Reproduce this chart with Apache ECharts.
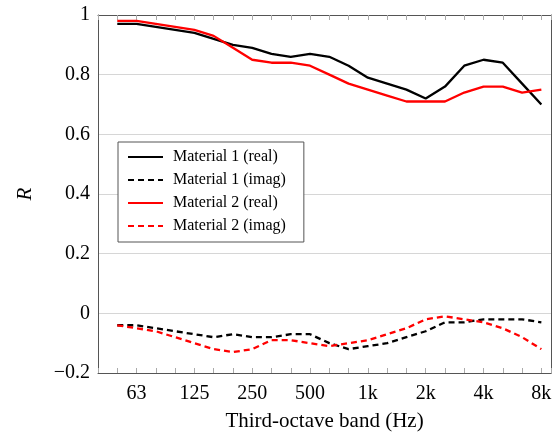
<!DOCTYPE html>
<html>
<head>
<meta charset="utf-8">
<script src="https://cdn.jsdelivr.net/npm/echarts@6/dist/echarts.min.js"></script>
<style>html,body{margin:0;padding:0;background:#fff}#c{width:560px;height:437px}</style>
</head>
<body>
<div id="c"></div>
<script>
// Third-octave band centres (index positions on the x axis)
const bands = ['50','63','80','100','125','160','200','250','315','400','500','630','800','1k','1.25k','1.6k','2k','2.5k','3.15k','4k','5k','6.3k','8k'];
const tickLabels = ['63','125','250','500','1k','2k','4k','8k'];
const yTicks = [-0.2, 0, 0.2, 0.4, 0.6, 0.8, 1];

const mat1Real = [0.97,0.97,0.96,0.95,0.94,0.92,0.90,0.89,0.87,0.86,0.87,0.86,0.83,0.79,0.77,0.75,0.72,0.76,0.83,0.85,0.84,0.77,0.70];
const mat1Imag = [-0.04,-0.04,-0.05,-0.06,-0.07,-0.08,-0.07,-0.08,-0.08,-0.07,-0.07,-0.10,-0.12,-0.11,-0.10,-0.08,-0.06,-0.03,-0.03,-0.02,-0.02,-0.02,-0.03];
const mat2Real = [0.98,0.98,0.97,0.96,0.95,0.93,0.89,0.85,0.84,0.84,0.83,0.80,0.77,0.75,0.73,0.71,0.71,0.71,0.74,0.76,0.76,0.74,0.75];
const mat2Imag = [-0.04,-0.05,-0.06,-0.08,-0.10,-0.12,-0.13,-0.12,-0.09,-0.09,-0.10,-0.11,-0.10,-0.09,-0.07,-0.05,-0.02,-0.01,-0.02,-0.03,-0.05,-0.08,-0.12];

const names = ['Material 1 (real)','Material 1 (imag)','Material 2 (real)','Material 2 (imag)'];
const serif = 'Liberation Serif';

function pts(arr){ return arr.map((v,i)=>[i,v]); }

const chart = echarts.init(document.getElementById('c'), null, {renderer:'canvas'});
const xCommon = {
  type:'value', min:-1, max:22.5, interval:1,
  axisLine:{show:true, onZero:false, lineStyle:{color:'#555', width:1}},
  axisTick:{show:true, inside:true, length:5, lineStyle:{color:'#aaa'}},
  splitLine:{show:false}
};
chart.setOption({
  animation:false,
  grid:{left:98, top:15, right:9, bottom:59},
  xAxis:[
    Object.assign({}, xCommon, {
      position:'bottom',
      name:'Third-octave band (Hz)', nameLocation:'middle', nameGap:38,
      nameTextStyle:{fontFamily:serif, fontSize:21, color:'#000'},
      axisLabel:{show:true, margin:11, fontFamily:serif, fontSize:20, color:'#000',
        formatter:function(v){ const b = bands[v]; return (Number.isInteger(v) && b && tickLabels.indexOf(b)>=0) ? b : ''; }}
    }),
    Object.assign({}, xCommon, {position:'top', axisLabel:{show:false}})
  ],
  yAxis:[
    {type:'value', min:-0.2, max:1, interval:0.2,
     axisLine:{show:true, onZero:false, lineStyle:{color:'#555'}},
     axisTick:{show:false},
     splitLine:{show:true, lineStyle:{color:'#d6d6d6', width:1}},
     name:'R', nameLocation:'middle', nameGap:62,
     nameTextStyle:{fontFamily:serif, fontSize:21, fontStyle:'italic', color:'#000'},
     axisLabel:{margin:8, fontFamily:serif, fontSize:20, color:'#000',
       formatter:function(v){ const r = Math.round(v*10)/10; return r<0 ? '\u2212'+Math.abs(r) : String(r); }}
    },
    {type:'value', min:-0.2, max:1, interval:0.2, position:'right',
     axisLine:{show:true, onZero:false, lineStyle:{color:'#555'}}, axisTick:{show:false}, axisLabel:{show:false}, splitLine:{show:false}}
  ],
  legend:{
    orient:'vertical', left:118, top:142,
    data:names,
    itemWidth:35, itemHeight:4, itemGap:7,
    padding:[7,18,8,9],
    borderColor:'#555', borderWidth:1, backgroundColor:'#fff',
    itemStyle:{color:'rgba(0,0,0,0)', borderColor:'rgba(0,0,0,0)', borderWidth:0},
    textStyle:{fontFamily:serif, fontSize:16, color:'#000', padding:[0,0,0,5]}
  },
  series:[
    {name:names[0], type:'line', data:pts(mat1Real), symbol:'none', lineStyle:{color:'#000', width:2.3}, itemStyle:{color:'#000'}},
    {name:names[1], type:'line', data:pts(mat1Imag), symbol:'none', lineStyle:{color:'#000', width:2.3, type:[6,4]}, itemStyle:{color:'#000'}},
    {name:names[2], type:'line', data:pts(mat2Real), symbol:'none', lineStyle:{color:'#ff0000', width:2.3}, itemStyle:{color:'#ff0000'}},
    {name:names[3], type:'line', data:pts(mat2Imag), symbol:'none', lineStyle:{color:'#ff0000', width:2.3, type:[6,4]}, itemStyle:{color:'#ff0000'}}
  ]
});
</script>
</body>
</html>
